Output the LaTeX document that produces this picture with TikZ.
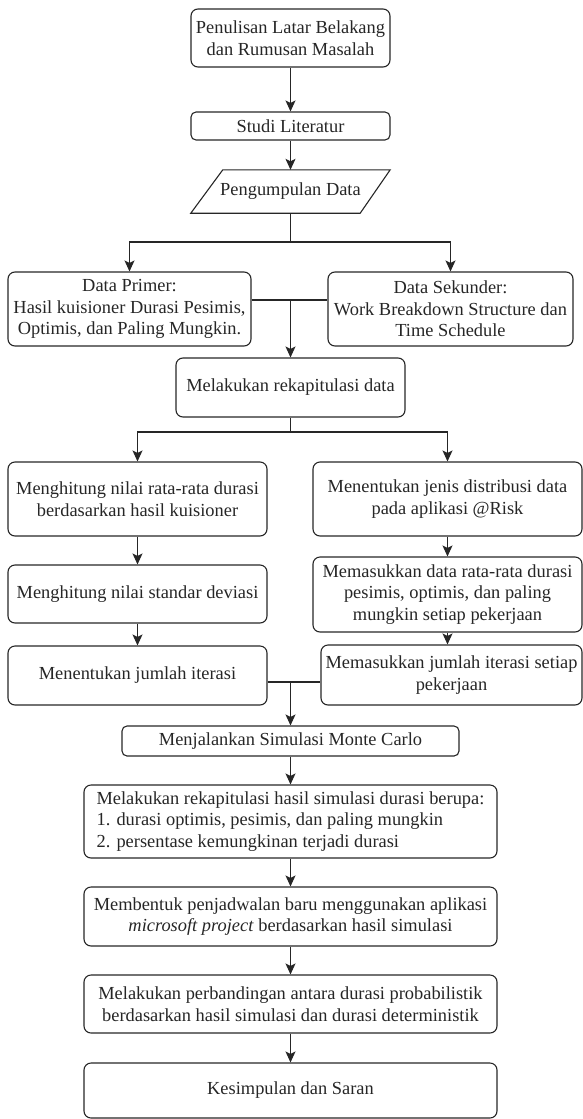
\documentclass[tikz,border=0pt]{standalone}
\usepackage{fontspec}
\setmainfont{Liberation Serif}
\usetikzlibrary{arrows.meta}

\begin{document}
\begin{tikzpicture}[x=1pt,y=-1pt,
  font=\fontsize{18.4}{21.5}\selectfont,
  conn/.style={draw=black!85,line width=1.1pt},
  arr/.style={conn,-{Stealth[length=11pt,width=10pt,inset=2.5pt]}},
  box/.style={conn,rounded corners=7pt,align=center,inner sep=2pt,text=black!85},
  txt/.style={align=center,inner sep=0pt,text=black!85}]

\useasboundingbox (0,0) rectangle (583,1119);

% Opening steps
\node[box,minimum width=199pt,minimum height=58pt] (latar) at (290.5,38)
  {Penulisan Latar Belakang\\dan Rumusan Masalah};
\node[box,rounded corners=5pt,minimum width=199pt,minimum height=28pt] (studi) at (290.5,126)
  {Studi Literatur};

% Data collection (parallelogram round a bare node)
\node[txt,minimum width=199pt,minimum height=43pt] (kumpul) at (290.5,191.5) {Pengumpulan Data};
\draw[conn] ([xshift=32pt]kumpul.north west) -- (kumpul.north east)
  -- ([xshift=-30pt]kumpul.south east) -- (kumpul.south west) -- cycle;

\draw[arr] (latar) -- (studi);
\draw[arr] (studi) -- (kumpul);

% The two kinds of data
\node[box,minimum width=243pt,minimum height=74pt] (primer) at (129.5,309)
  {Data Primer:\\Hasil kuisioner Durasi Pesimis,\\Optimis, dan Paling Mungkin.};
\node[box,minimum width=245pt,minimum height=74pt] (sekunder) at (450.5,309)
  {Data Sekunder:\\Work Breakdown Structure dan\\Time Schedule};
\node[box,minimum width=229pt,minimum height=59pt] (rekap) at (290.5,387.5)
  {Melakukan rekapitulasi data};

\coordinate (split1) at (290.5,242);
\draw[conn] (kumpul.south) -- (split1);
\draw[arr] (split1) -| (primer.north);
\draw[arr] (split1) -| (sekunder.north);

\coordinate (join1) at (290.5,300);
\draw[conn] (join1 -| primer.east) -- (join1 -| sekunder.west);
\draw[arr] (join1) -- (rekap.north);

% Left column
\node[box,minimum width=259pt,minimum height=74pt] (ratarata) at (137.5,499)
  {Menghitung nilai rata-rata durasi\\berdasarkan hasil kuisioner};
\node[box,minimum width=259pt,minimum height=58pt] (stdev) at (137.5,594)
  {Menghitung nilai standar deviasi};
\node[box,minimum width=259pt,minimum height=59pt] (iterasi) at (137.5,675.5)
  {Menentukan jumlah iterasi};

% Right column
\node[box,minimum width=269pt,minimum height=74pt] (distribusi) at (447.5,499)
  {Menentukan jenis distribusi data\\pada aplikasi @Risk};
\node[box,minimum width=269pt,minimum height=75pt] (masukdata) at (447.5,594.5)
  {Memasukkan data rata-rata durasi\\pesimis, optimis, dan paling\\mungkin setiap pekerjaan};
\node[box,minimum width=261pt,minimum height=60pt] (masukiter) at (451.5,675)
  {Memasukkan jumlah iterasi setiap\\pekerjaan};

\coordinate (split2) at (290.5,432);
\draw[conn] (rekap.south) -- (split2);
\draw[arr] (split2) -| (ratarata.north);
\draw[arr] (split2) -| (distribusi.north);

\draw[arr] (ratarata) -- (stdev);
\draw[arr] (stdev) -- (iterasi);
\draw[arr] (distribusi) -- (masukdata);
\draw[arr] (masukdata.south) -- (masukdata.south |- masukiter.north);

% Simulation and what follows
\node[box,rounded corners=5pt,minimum width=337pt,minimum height=30pt] (monte) at (290.5,741)
  {Menjalankan Simulasi Monte Carlo};
\node[box,align=left,minimum width=413pt,minimum height=73pt] (hasil) at (290.5,821.5)
  {Melakukan rekapitulasi hasil simulasi durasi berupa:\\
   1. durasi optimis, pesimis, dan paling mungkin\\
   2. persentase kemungkinan terjadi durasi};
\node[box,minimum width=413pt,minimum height=59pt] (jadwal) at (290.5,916.5)
  {Membentuk penjadwalan baru menggunakan aplikasi\\
   \textit{microsoft project} berdasarkan hasil simulasi};
\node[box,minimum width=413pt,minimum height=58pt] (banding) at (290.5,1004)
  {Melakukan perbandingan antara durasi probabilistik\\
   berdasarkan hasil simulasi dan durasi deterministik};
\node[box,minimum width=413pt,minimum height=55pt] (simpul) at (290.5,1090.5)
  {Kesimpulan dan Saran};

\coordinate (join2) at (290.5,682);
\draw[conn] (join2 -| iterasi.east) -- (join2 -| masukiter.west);
\draw[arr] (join2) -- (monte.north);

\draw[arr] (monte) -- (hasil);
\draw[arr] (hasil) -- (jadwal);
\draw[arr] (jadwal) -- (banding);
\draw[arr] (banding) -- (simpul);

\end{tikzpicture}
\end{document}
